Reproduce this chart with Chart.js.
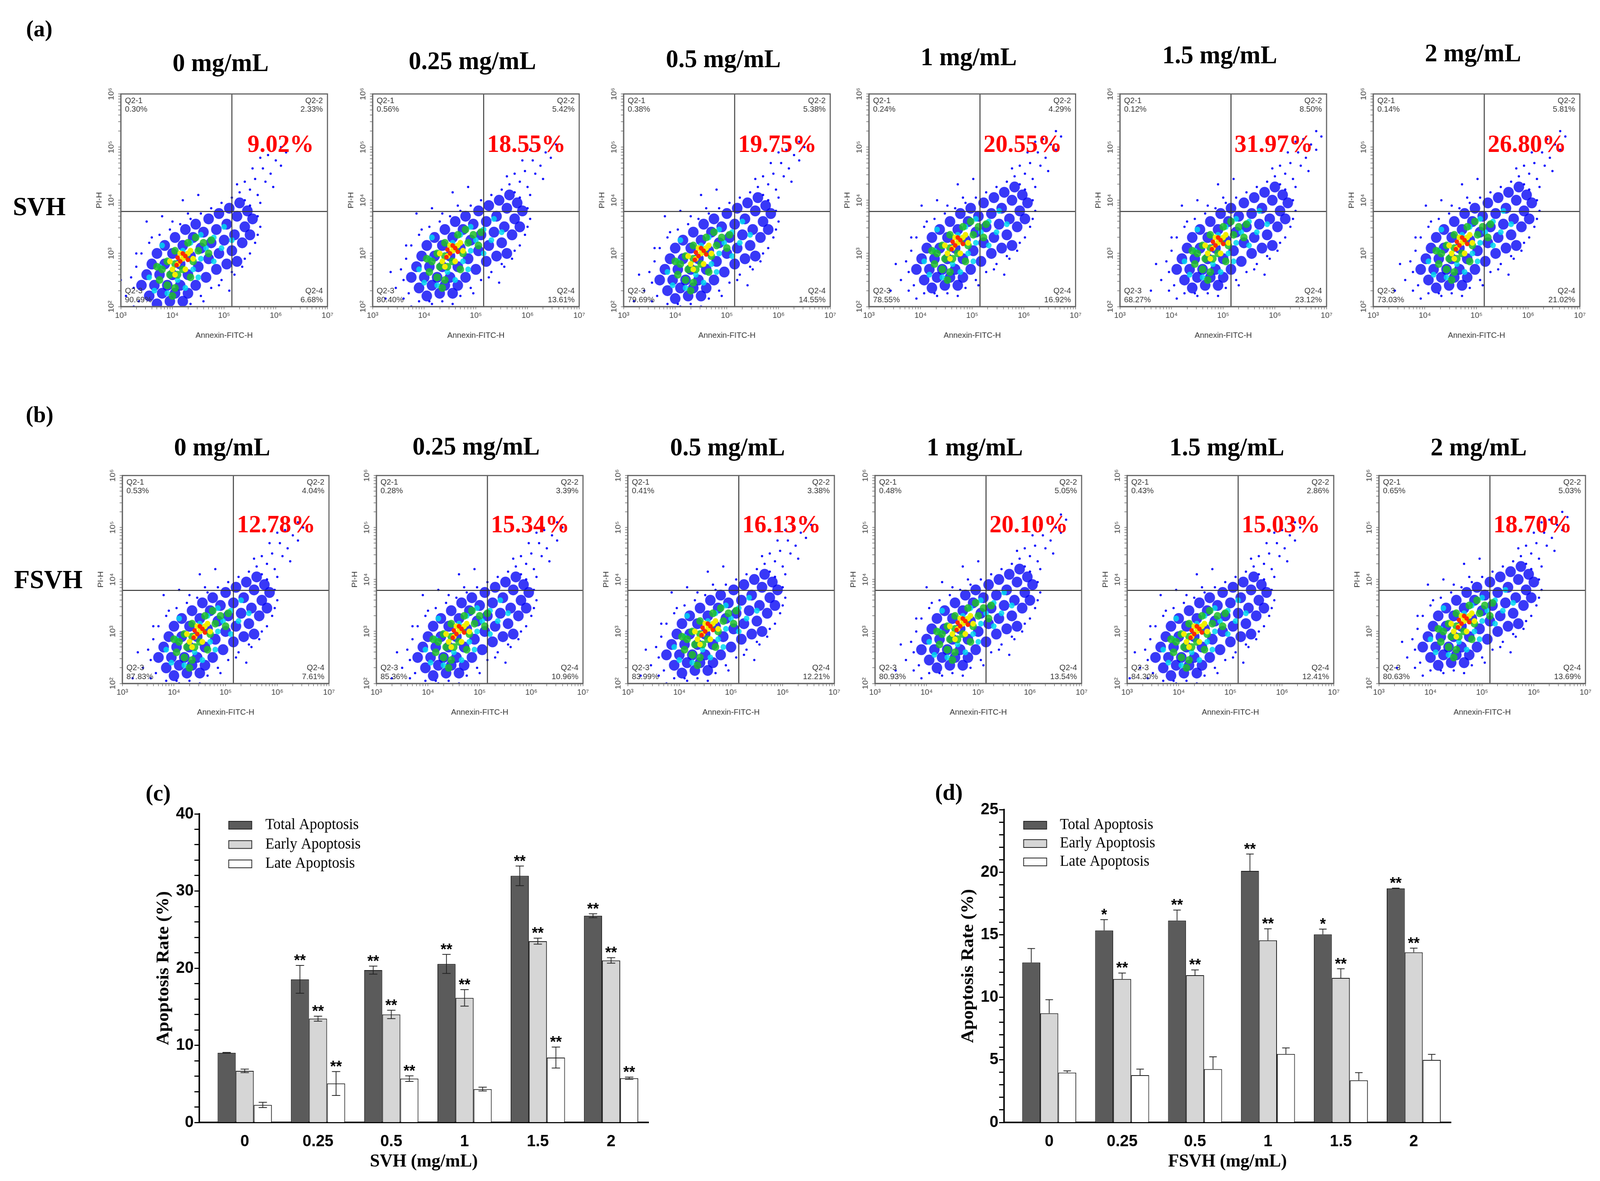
<!DOCTYPE html>
<html>
<head>
<meta charset="utf-8">
<title>Apoptosis SVH / FSVH</title>
<script src="https://cdn.jsdelivr.net/npm/chart.js@4.4.1/dist/chart.umd.min.js"></script>
<style>
	html, body { margin: 0; padding: 0; background: #fff; overflow: hidden; }
	#page { position: relative; width: 4239px; height: 3024px; overflow: hidden; background: #fff; transform-origin: 0 0; }
	#page canvas { position: absolute; }
	.txt { position: absolute; font-family: "Liberation Serif", serif; font-weight: bold; color: #000; white-space: nowrap; line-height: 1; transform: translate(-50%, -50%); }
</style>
</head>
<body>
<div id="page"></div>
<script>
var doseLabels = ['0', '0.25', '0.5', '1', '1.5', '2'];
var panelTitles = ['0 mg/mL', '0.25 mg/mL', '0.5 mg/mL', '1 mg/mL', '1.5 mg/mL', '2 mg/mL'];
var seriesNames = ['Total Apoptosis', 'Early Apoptosis', 'Late Apoptosis'];

// quadrant percentages of the flow plots
var svhQ1 = [0.30, 0.56, 0.38, 0.24, 0.12, 0.14];
var svhQ2 = [2.33, 5.42, 5.38, 4.29, 8.50, 5.81];
var svhQ3 = [90.69, 80.40, 79.69, 78.55, 68.27, 73.03];
var svhQ4 = [6.68, 13.61, 14.55, 16.92, 23.12, 21.02];
var fsvhQ1 = [0.53, 0.28, 0.41, 0.48, 0.43, 0.65];
var fsvhQ2 = [4.04, 3.39, 3.38, 5.05, 2.86, 5.03];
var fsvhQ3 = [87.83, 85.36, 83.99, 80.93, 84.30, 80.63];
var fsvhQ4 = [7.61, 10.96, 12.21, 13.54, 12.41, 13.69];

// bar chart (c) SVH
var svhTotal = [9.02, 18.55, 19.75, 20.55, 31.97, 26.80];
var svhTotalErr = [0.05, 1.8, 0.52, 1.23, 1.27, 0.25];
var svhEarly = [6.68, 13.45, 14.0, 16.14, 23.5, 21.0];
var svhEarlyErr = [0.23, 0.32, 0.55, 1.07, 0.39, 0.36];
var svhLate = [2.27, 5.05, 5.68, 4.32, 8.41, 5.73];
var svhLateErr = [0.34, 1.55, 0.36, 0.25, 1.36, 0.14];
var svhTotalSig = ['', '**', '**', '**', '**', '**'];
var svhEarlySig = ['', '**', '**', '**', '**', '**'];
var svhLateSig = ['', '**', '**', '', '**', '**'];

// bar chart (d) FSVH
var fsvhTotal = [12.78, 15.34, 16.13, 20.10, 15.03, 18.70];
var fsvhTotalErr = [1.12, 0.87, 0.84, 1.35, 0.42, 0.03];
var fsvhEarly = [8.72, 11.46, 11.77, 14.55, 11.55, 13.59];
var fsvhEarlyErr = [1.09, 0.48, 0.42, 0.92, 0.73, 0.34];
var fsvhLate = [3.98, 3.78, 4.26, 5.47, 3.36, 4.99];
var fsvhLateErr = [0.14, 0.48, 0.98, 0.48, 0.62, 0.45];
var fsvhTotalSig = ['', '*', '**', '**', '*', '**'];
var fsvhEarlySig = ['', '**', '**', '**', '**', '**'];
var fsvhLateSig = ['', '', '', '', '', ''];

// dense core of each cloud, log10(Annexin), log10(PI)
var svhCoreX = [4.2, 4.55, 4.5, 4.72, 4.9, 4.72];
var svhCoreY = [2.9, 3.05, 3.0, 3.2, 3.2, 3.2];
var fsvhCoreX = [4.5, 4.6, 4.55, 4.7, 4.35, 4.65];
var fsvhCoreY = [3.0, 3.0, 3.05, 3.15, 3.0, 3.2];

// gates, log10
var gateAnnexin = 5.15;
var gatePI = 3.79;

// cloud shape, decades away from the core
var cloudBlue = [[-0.8,-0.5],[-0.65,-0.7],[-0.5,-0.85],[-0.7,-0.3],[-0.55,-0.5],[-0.4,-0.65],[-0.25,-0.8],[-0.6,-0.1],[-0.45,-0.3],[-0.3,-0.5],[-0.15,-0.65],[0.0,-0.8],[-0.5,0.1],[-0.35,-0.1],[-0.2,-0.3],[-0.05,-0.5],[0.1,-0.65],
	[-0.35,0.25],[-0.2,0.1],[-0.05,-0.1],[0.1,-0.3],[0.25,-0.5],[-0.15,0.4],[0.0,0.25],[0.15,0.05],[0.3,-0.15],[0.45,-0.35],[0.05,0.55],[0.2,0.4],[0.35,0.2],[0.5,0.0],[0.65,-0.2],[0.25,0.65],[0.4,0.5],[0.55,0.3],[0.7,0.1],[0.85,-0.1],
	[0.5,0.75],[0.65,0.55],[0.8,0.35],[0.95,0.15],[1.05,-0.05],[0.7,0.85],[0.85,0.65],[1.0,0.45],[1.15,0.3],[0.9,0.95],[1.05,0.8],[1.2,0.6],[1.3,0.45],[1.1,1.05],[1.25,0.9],[1.35,0.75]];
var cloudCyan = [[-0.55,-0.6],[-0.45,-0.15],[-0.3,-0.65],[-0.25,-0.05],[-0.1,-0.4],[0.05,-0.55],[0.0,0.15],[0.2,-0.2],[0.35,0.0],[0.15,0.3],[0.45,0.2],[0.6,-0.05],[0.35,0.45],[0.6,0.4],[0.75,0.2],[0.8,0.6],[-0.4,0.25],[0.3,-0.35],[-0.65,-0.35],[0.95,0.35]];
var cloudGreen = [[-0.45,-0.4],[-0.3,-0.5],[-0.15,-0.55],[-0.4,-0.2],[-0.25,-0.3],[-0.1,-0.3],[-0.3,-0.05],[-0.15,-0.1],[0.0,-0.2],[0.15,-0.35],[-0.15,0.15],[0.05,0.05],[0.2,-0.05],[0.3,0.15],[0.1,0.3],[0.4,0.3],[0.5,0.1],[-0.5,-0.15],[0.25,0.4],[-0.2,-0.7],[0.55,0.35]];
var cloudYellow = [[-0.2,-0.2],[-0.1,-0.1],[0.0,0.0],[0.1,0.1],[-0.25,-0.05],[0.05,-0.2],[0.15,0.15],[-0.05,0.1],[0.2,0.0],[-0.15,-0.3]];
var cloudRed = [[-0.05,-0.05],[0.05,0.05],[-0.12,-0.12],[0.1,-0.02],[0.0,0.1],[-0.1,0.02]];
var cloudSpecks = [[1.2,1.1],[1.3,1.3],[1.45,1.2],[1.4,1.5],[1.6,1.45],[1.55,1.7],[1.7,1.6],[1.8,1.85],[1.65,1.95],[1.9,1.75],[1.3,1.0],[1.5,1.05],[1.1,1.25],[1.35,1.7],[1.75,1.35],[2.0,2.0],[1.2,1.45],[1.9,2.1],[1.5,1.9],[1.05,1.4],
	[-1.1,-0.7],[-0.95,-0.9],[-0.8,-1.05],[-1.2,-0.4],[-0.9,0.1],[-0.6,0.4],[-0.2,0.7],[0.1,0.85],[0.0,1.1],[-0.4,0.8],[1.2,0.0],[1.0,-0.3],[0.7,-0.5],[0.4,-0.8],[0.0,-1.0],[-0.4,-1.0],[1.4,0.3],[1.5,0.6],[-1.3,-0.9],[0.9,-0.6],[-0.7,0.7],[0.3,1.2],
	[-0.95,-0.55],[-0.85,-0.8],[-0.65,-0.95],[-0.45,-0.95],[-0.2,-0.95],[0.15,-0.85],[0.35,-0.7],[0.55,-0.55],[0.75,-0.4],[0.95,-0.25],[1.15,-0.15],[1.3,0.1],[1.45,0.45],[1.45,0.8],[1.3,1.0],[0.95,1.15],[0.75,1.05],[0.55,0.95],[0.35,0.85],[0.15,0.75],[-0.05,0.65],[-0.25,0.55],[-0.45,0.45],[-0.65,0.3],[-0.8,0.1],[-0.9,-0.15],[-1.0,-0.35]];

// page layout
var PAGE_W = 4239;
var PAGE_H = 3024;
var PLOT_W = 553;
var FLOW_AXIS_W = 80;
var FLOW_AXIS_H = 95;
var FLOW_PAD = 14;
var rowTops = [240, 1217];
var rowHeights = [545, 533];
var rowLefts = [[320, 987, 1652, 2302, 2967, 3638], [324, 997, 1663, 2318, 2986, 3653]];
var rowTitleY = [[160, 155, 150, 145, 140, 135], [1144, 1142, 1144, 1144, 1144, 1144]];

var Figure = Figure || {};

var SUP = { 2: '\u00b2', 3: '\u00b3', 4: '\u2074', 5: '\u2075', 6: '\u2076', 7: '\u2077' };
var SANS = "'Liberation Sans', 'DejaVu Sans', sans-serif";
var SERIF = "'Liberation Serif', serif";

function powerLabel(value) {
	var e = Math.log10(value);
	if (Math.abs(e - Math.round(e)) > 1e-6) return '';
	return '10' + SUP[Math.round(e)];
}

function decadeTicks(scale) {
	var ticks = [];
	var lo = Math.round(Math.log10(scale.min));
	var hi = Math.round(Math.log10(scale.max));
	for (var e = lo; e < hi; e++) {
		for (var m = 1; m < 10; m++) ticks.push({ value: m * Math.pow(10, e) });
	}
	ticks.push({ value: Math.pow(10, hi) });
	scale.ticks = ticks;
}

function cloudPoints(shape, cx, cy) {
	return shape.map(function(d) {
		return { x: Math.pow(10, cx + d[0]), y: Math.pow(10, cy + d[1]) };
	});
}

function pct(v) {
	return v.toFixed(2) + '%';
}

var cloudLayers = [
	{ shape: cloudRed, radius: 6, color: '#ff2a00', order: 1 },
	{ shape: cloudYellow, radius: 7.5, color: '#f2ee00', order: 2 },
	{ shape: cloudGreen, radius: 10, color: 'rgba(30,190,40,0.85)', order: 3 },
	{ shape: cloudCyan, radius: 7.5, color: 'rgba(0,215,240,0.85)', order: 4 },
	{ shape: cloudSpecks, radius: 3, color: '#0a0aff', order: 5 },
	{ shape: cloudBlue, radius: 14, color: 'rgba(0,0,245,0.78)', order: 6 }
];

var framePlugin = {
	id: 'frame',
	afterDraw: function(chart) {
		var a = chart.chartArea, ctx = chart.ctx;
		ctx.save();
		ctx.strokeStyle = '#666';
		ctx.lineWidth = 3;
		ctx.strokeRect(a.left, a.top, a.right - a.left, a.bottom - a.top);
		ctx.restore();
	}
};

var flowTextPlugin = {
	id: 'flowText',
	afterDatasetsDraw: function(chart, args, opts) {
		var a = chart.chartArea, ctx = chart.ctx;
		ctx.save();
		ctx.fillStyle = '#333';
		ctx.font = '21px ' + SANS;
		ctx.textBaseline = 'middle';
		ctx.textAlign = 'left';
		ctx.fillText('Q2-1', a.left + 11, a.top + 18);
		ctx.fillText(opts.q1, a.left + 11, a.top + 40);
		ctx.fillText('Q2-3', a.left + 11, a.bottom - 40);
		ctx.fillText(opts.q3, a.left + 11, a.bottom - 17);
		ctx.textAlign = 'right';
		ctx.fillText('Q2-2', a.right - 12, a.top + 18);
		ctx.fillText(opts.q2, a.right - 12, a.top + 40);
		ctx.fillText('Q2-4', a.right - 12, a.bottom - 40);
		ctx.fillText(opts.q4, a.right - 12, a.bottom - 17);
		ctx.fillStyle = '#ff0000';
		ctx.font = 'bold 64px ' + SERIF;
		ctx.fillText(opts.total, a.right - 36, chart.scales.y.getPixelForValue(1e5) - 4);
		ctx.restore();
	}
};

Figure.FlowPanel = (function() {

	function FlowPanel(page, left, top, height, info) {
		this.info = info;
		this.canvas = document.createElement('canvas');
		this.canvas.width = FLOW_AXIS_W + PLOT_W + FLOW_PAD;
		this.canvas.height = FLOW_PAD + height + FLOW_AXIS_H;
		this.canvas.style.left = (left - FLOW_AXIS_W) + 'px';
		this.canvas.style.top = (top - FLOW_PAD) + 'px';
		page.appendChild(this.canvas);
	}

	FlowPanel.prototype.start = function() {
		var info = this.info;
		var datasets = cloudLayers.map(function(layer) {
			return {
				data: cloudPoints(layer.shape, info.coreX, info.coreY),
				pointRadius: layer.radius,
				pointBackgroundColor: layer.color,
				pointBorderWidth: 0,
				order: layer.order
			};
		});
		var gx = Math.pow(10, gateAnnexin), gy = Math.pow(10, gatePI);
		datasets.push(gateLine([{ x: gx, y: 1e2 }, { x: gx, y: 1e6 }]));
		datasets.push(gateLine([{ x: 1e3, y: gy }, { x: 1e7, y: gy }]));

		new Chart(this.canvas.getContext('2d'), {
			type: 'scatter',
			data: { datasets: datasets },
			options: {
				responsive: false,
				animation: false,
				devicePixelRatio: 1,
				layout: { padding: { top: FLOW_PAD, right: FLOW_PAD, left: 0, bottom: 0 } },
				plugins: {
					legend: { display: false },
					tooltip: { enabled: false },
					flowText: { q1: pct(info.q1), q2: pct(info.q2), q3: pct(info.q3), q4: pct(info.q4), total: pct(info.total) }
				},
				scales: {
					x: {
						type: 'logarithmic', min: 1e3, max: 1e7,
						afterBuildTicks: decadeTicks,
						afterFit: function(s) { s.height = FLOW_AXIS_H; },
						ticks: { autoSkip: false, minRotation: 0, maxRotation: 0, callback: powerLabel, color: '#444', font: { family: SANS, size: 21 }, padding: 4 },
						grid: { drawOnChartArea: false, tickLength: 7, tickColor: '#666', tickWidth: 1.5 },
						border: { color: '#666', width: 3 },
						title: { display: true, text: 'Annexin-FITC-H', color: '#333', font: { family: SANS, size: 21 }, padding: { top: 0, bottom: 8 } }
					},
					y: {
						type: 'logarithmic', min: 1e2, max: 1e6,
						afterBuildTicks: decadeTicks,
						afterFit: function(s) { s.width = FLOW_AXIS_W; },
						ticks: { autoSkip: false, minRotation: 90, maxRotation: 90, crossAlign: 'center', callback: powerLabel, color: '#444', font: { family: SANS, size: 21 }, padding: 2 },
						grid: { drawOnChartArea: false, tickLength: 7, tickColor: '#666', tickWidth: 1.5 },
						border: { color: '#666', width: 3 },
						title: { display: true, text: 'PI-H', color: '#333', font: { family: SANS, size: 21 }, padding: { top: 11, bottom: 0 } }
					}
				}
			},
			plugins: [framePlugin, flowTextPlugin]
		});
	};

	function gateLine(points) {
		return {
			type: 'line',
			data: points,
			showLine: true,
			borderColor: '#333',
			borderWidth: 2.5,
			pointRadius: 0,
			fill: false,
			order: 0
		};
	}

	return FlowPanel;

}());

var errorBarPlugin = {
	id: 'errorBars',
	afterDatasetsDraw: function(chart, args, opts) {
		var ctx = chart.ctx, y = chart.scales.y;
		ctx.save();
		ctx.strokeStyle = '#222';
		ctx.lineWidth = 2;
		ctx.fillStyle = '#000';
		ctx.font = 'bold 40px ' + SANS;
		ctx.textAlign = 'center';
		ctx.textBaseline = 'middle';
		chart.data.datasets.forEach(function(ds, i) {
			chart.getDatasetMeta(i).data.forEach(function(bar, j) {
				var v = ds.data[j].y, e = ds.errors[j];
				var top = y.getPixelForValue(v + e);
				var bottom = y.getPixelForValue(opts.upperOnly ? v : v - e);
				ctx.beginPath();
				ctx.moveTo(bar.x, top);
				ctx.lineTo(bar.x, bottom);
				ctx.moveTo(bar.x - opts.cap, top);
				ctx.lineTo(bar.x + opts.cap, top);
				if (!opts.upperOnly) {
					ctx.moveTo(bar.x - opts.cap, bottom);
					ctx.lineTo(bar.x + opts.cap, bottom);
				}
				ctx.stroke();
				if (ds.marks[j]) ctx.fillText(ds.marks[j], bar.x, top - 11);
			});
		});
		ctx.restore();
	}
};

var boxLegendPlugin = {
	id: 'boxLegend',
	afterDraw: function(chart, args, opts) {
		var a = chart.chartArea, ctx = chart.ctx;
		ctx.save();
		ctx.font = '39px ' + SERIF;
		ctx.textBaseline = 'middle';
		ctx.textAlign = 'left';
		ctx.lineWidth = 2;
		ctx.strokeStyle = '#222';
		chart.data.datasets.forEach(function(ds, i) {
			var y = a.top + opts.top + i * opts.step;
			ctx.fillStyle = ds.backgroundColor;
			ctx.fillRect(a.left + opts.left, y - 10, 61, 20);
			ctx.strokeRect(a.left + opts.left, y - 10, 61, 20);
			ctx.fillStyle = '#000';
			ctx.fillText(ds.label, a.left + opts.textLeft, y);
		});
		ctx.restore();
	}
};

Figure.RateChart = (function() {

	var AXIS_W = 160, AXIS_H = 130, PAD_TOP = 30, PAD_RIGHT = 20;

	function RateChart(page, area, setup) {
		this.setup = setup;
		this.canvas = document.createElement('canvas');
		this.canvas.width = AXIS_W + (area.right - area.left) + PAD_RIGHT;
		this.canvas.height = PAD_TOP + (area.bottom - area.top) + AXIS_H;
		this.canvas.style.left = (area.left - AXIS_W) + 'px';
		this.canvas.style.top = (area.top - PAD_TOP) + 'px';
		page.appendChild(this.canvas);
	}

	RateChart.prototype.start = function() {
		var s = this.setup;
		var fills = ['#5b5b5b', '#d6d6d6', '#ffffff'];
		var datasets = s.series.map(function(values, i) {
			return {
				label: seriesNames[i],
				data: values.map(function(v, j) { return { x: j, y: v }; }),
				errors: s.errors[i],
				marks: s.marks[i],
				backgroundColor: fills[i],
				borderColor: '#1a1a1a',
				borderWidth: 2,
				categoryPercentage: 0.74,
				barPercentage: 1.0
			};
		});

		new Chart(this.canvas.getContext('2d'), {
			type: 'bar',
			data: { datasets: datasets },
			options: {
				responsive: false,
				animation: false,
				devicePixelRatio: 1,
				layout: { padding: { top: PAD_TOP, right: PAD_RIGHT, left: 0, bottom: 0 } },
				plugins: {
					legend: { display: false },
					tooltip: { enabled: false },
					errorBars: { upperOnly: s.upperOnly, cap: s.cap },
					boxLegend: s.legend
				},
				scales: {
					x: {
						type: 'linear',
						offset: false,
						min: -0.62, max: 5.51,
						afterBuildTicks: function(sc) {
							sc.ticks = doseLabels.map(function(label, j) { return { value: j }; });
						},
						afterFit: function(sc) { sc.height = AXIS_H; },
						ticks: {
							color: '#000',
							font: { family: SANS, size: 42, weight: 'bold' },
							padding: 24,
							callback: function(v) { return doseLabels[v]; }
						},
						grid: { drawOnChartArea: false, drawTicks: false },
						border: { color: '#000', width: 4 },
						title: { display: true, text: s.xTitle, color: '#000', font: { family: SERIF, size: 47, weight: 'bold' }, padding: { top: 0, bottom: 1 } }
					},
					y: {
						min: 0, max: s.max,
						afterFit: function(sc) { sc.width = AXIS_W; },
						ticks: {
							stepSize: s.minorStep,
							autoSkip: false,
							color: '#000',
							font: { family: SANS, size: 42, weight: 'bold' },
							padding: 2,
							callback: function(v) { return v % s.majorStep === 0 ? v : ''; }
						},
						grid: { drawOnChartArea: false, tickLength: 13, tickColor: '#000', tickWidth: 3 },
						border: { color: '#000', width: 4 },
						title: { display: true, text: 'Apoptosis Rate (%)', color: '#000', font: { family: SERIF, size: 47, weight: 'bold' }, padding: { top: 38, bottom: 0 } }
					}
				}
			},
			plugins: [errorBarPlugin, boxLegendPlugin]
		});
	};

	return RateChart;

}());

function addText(page, text, x, y, size, color) {
	var el = document.createElement('div');
	el.className = 'txt';
	el.textContent = text;
	el.style.left = x + 'px';
	el.style.top = y + 'px';
	el.style.fontSize = size + 'px';
	if (color) el.style.color = color;
	page.appendChild(el);
}

(function() {
	var page = document.getElementById('page');
	Chart.defaults.font.family = SANS;

	// fit the 4239x3024 figure into whatever viewport we actually get
	var sx = window.innerWidth / PAGE_W, sy = window.innerHeight / PAGE_H;
	if (Math.abs(sx - 1) > 0.002 || Math.abs(sy - 1) > 0.002) {
		page.style.transform = 'scale(' + sx + ',' + sy + ')';
	}

	var rows = [
		{ q1: svhQ1, q2: svhQ2, q3: svhQ3, q4: svhQ4, total: svhTotal, coreX: svhCoreX, coreY: svhCoreY },
		{ q1: fsvhQ1, q2: fsvhQ2, q3: fsvhQ3, q4: fsvhQ4, total: fsvhTotal, coreX: fsvhCoreX, coreY: fsvhCoreY }
	];

	rows.forEach(function(row, r) {
		doseLabels.forEach(function(dose, i) {
			var left = rowLefts[r][i];
			addText(page, panelTitles[i], left + PLOT_W / 2 - 12, rowTitleY[r][i], 66);
			var panel = new Figure.FlowPanel(page, left, rowTops[r], rowHeights[r], {
				q1: row.q1[i], q2: row.q2[i], q3: row.q3[i], q4: row.q4[i],
				total: row.total[i], coreX: row.coreX[i], coreY: row.coreY[i]
			});
			panel.start();
		});
	});

	addText(page, '(a)', 104, 73, 60);
	addText(page, 'SVH', 104, 528, 68);
	addText(page, '(b)', 105, 1061, 60);
	addText(page, 'FSVH', 128, 1483, 68);
	addText(page, '(c)', 419, 2030, 60);
	addText(page, '(d)', 2514, 2028, 60);

	var svhChart = new Figure.RateChart(page, { left: 528, top: 2084, right: 1718, bottom: 2874 }, {
		series: [svhTotal, svhEarly, svhLate],
		errors: [svhTotalErr, svhEarlyErr, svhLateErr],
		marks: [svhTotalSig, svhEarlySig, svhLateSig],
		max: 40, minorStep: 2, majorStep: 10,
		upperOnly: false, cap: 11,
		xTitle: 'SVH (mg/mL)',
		legend: { left: 78, top: 29, step: 49.5, textLeft: 175 }
	});
	svhChart.start();

	var fsvhChart = new Figure.RateChart(page, { left: 2660, top: 2073, right: 3844, bottom: 2874 }, {
		series: [fsvhTotal, fsvhEarly, fsvhLate],
		errors: [fsvhTotalErr, fsvhEarlyErr, fsvhLateErr],
		marks: [fsvhTotalSig, fsvhEarlySig, fsvhLateSig],
		max: 25, minorStep: 1, majorStep: 5,
		upperOnly: true, cap: 10,
		xTitle: 'FSVH (mg/mL)',
		legend: { left: 52, top: 40, step: 47, textLeft: 148 }
	});
	fsvhChart.start();
}());
</script>
</body>
</html>
